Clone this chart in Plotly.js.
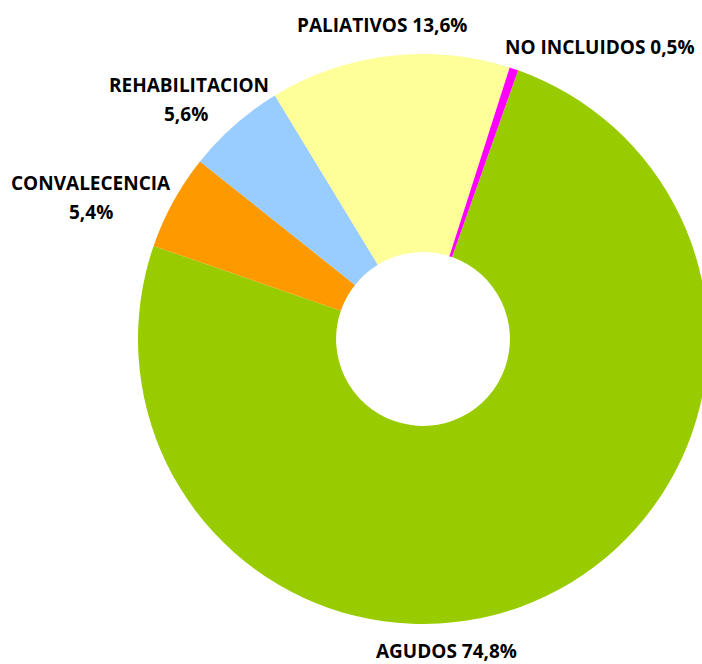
<!DOCTYPE html>
<html><head><meta charset="utf-8">
<script src="https://cdn.plot.ly/plotly-3.0.1.min.js"></script>
<style>html,body{margin:0;padding:0;background:#fff;overflow:hidden}#c{width:720px;height:664px}</style>
</head><body><div id="c"></div>
<script>
const categories = ["AGUDOS", "CONVALECENCIA", "REHABILITACION", "PALIATIVOS", "NO INCLUIDOS"];
const values = [74.8, 5.4, 5.6, 13.6, 0.5];
const labelLines = [["AGUDOS 74,8%"], ["CONVALECENCIA", "5,4%"], ["REHABILITACION", "5,6%"], ["PALIATIVOS 13,6%"], ["NO INCLUIDOS 0,5%"]];
const colors = ["#99CC00", "#FF9900", "#99CCFF", "#FFFF99", "#FF00FF"];

const W = 720, H = 664;
const font = {family: "'Open Sans', sans-serif", size: 19, color: "#000"};
const labelPos = [[[446, 651]], [[91, 183], [91, 212]], [[189, 85], [186, 114]], [[382, 25]], [[600, 47]]];
const annotations = [];
labelLines.forEach((lines, i) => lines.forEach((t, j) => annotations.push({
  text: "<b>" + t + "</b>", x: labelPos[i][j][0] / W, y: 1 - labelPos[i][j][1] / H,
  xref: "paper", yref: "paper", showarrow: false, font: font, align: "center",
  xanchor: "center", yanchor: "middle", borderpad: 0
})));

Plotly.newPlot("c", [{
  type: "pie", labels: categories, values: values, sort: false, direction: "clockwise",
  rotation: 19.5, hole: 0.305, marker: {colors: colors, line: {width: 0}},
  textinfo: "none", hoverinfo: "label+percent",
  domain: {x: [138 / W, 708 / W], y: [40 / H, 610 / H]}
}], {
  width: W, height: H, margin: {l: 0, r: 0, t: 0, b: 0}, showlegend: false,
  paper_bgcolor: "#fff", annotations: annotations
}, {displayModeBar: false});
</script></body></html>
